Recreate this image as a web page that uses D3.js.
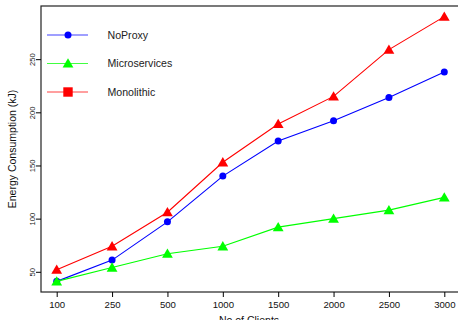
<!DOCTYPE html>
<html>
<head>
<meta charset="utf-8">
<script src="https://cdn.jsdelivr.net/npm/d3@7"></script>
<style>
  html, body { margin: 0; padding: 0; background: #fff; }
  svg { display: block; font-family: "Liberation Sans", Arial, Helvetica, sans-serif; }
</style>
</head>
<body>
<svg id="chart" width="458" height="320"></svg>
<script>
// Energy consumption per client count, three deployment styles
const clients = ["100", "250", "500", "1000", "1500", "2000", "2500", "3000"];
const noProxy = [41, 61, 97, 140, 173, 192, 214, 238];
const microservices = [41, 54, 67, 74, 92, 100, 108, 120];
const monolithic = [52, 74, 106, 153, 189, 215, 259, 290];
const yTicks = [50, 100, 150, 200, 250];

const seriesList = [
  { name: "NoProxy", values: noProxy, color: "#0000ff", marker: "circle", legendMarker: "circle" },
  { name: "Microservices", values: microservices, color: "#00ff00", marker: "triangle", legendMarker: "triangle" },
  { name: "Monolithic", values: monolithic, color: "#ff0000", marker: "triangle", legendMarker: "square" }
];

const svg = d3.select("#chart");
const plot = { left: 41, top: 6, right: 459, bottom: 292 };

const x = d3.scalePoint().domain(clients).range([56.7, 444.3]).padding(0);
const y = d3.scaleLinear().domain([31, 300]).range([plot.bottom, plot.top]);

// plot frame
svg.append("rect")
  .attr("x", plot.left).attr("y", plot.top)
  .attr("width", plot.right - plot.left).attr("height", plot.bottom - plot.top)
  .attr("fill", "none").attr("stroke", "#222").attr("stroke-width", 1.2);

// x axis
const xAxis = svg.append("g")
  .attr("transform", `translate(0,${plot.bottom})`)
  .call(d3.axisBottom(x).tickSize(5).tickPadding(4));
xAxis.select(".domain").remove();
xAxis.selectAll("line").attr("stroke", "#000");
xAxis.selectAll("text").attr("font-size", 9.6).attr("fill", "#111")
  .attr("font-family", "'Liberation Sans', Arial, sans-serif");

// y axis with rotated labels
const yAxis = svg.append("g")
  .attr("transform", `translate(${plot.left},0)`)
  .call(d3.axisLeft(y).tickValues(yTicks).tickSize(5));
yAxis.select(".domain").remove();
yAxis.selectAll("line").attr("stroke", "#000");
yAxis.selectAll("text")
  .attr("x", 0).attr("dy", 0)
  .attr("text-anchor", "middle")
  .attr("transform", "translate(-6.5,0) rotate(-90)")
  .attr("font-size", 7.6).attr("fill", "#222")
  .attr("font-family", "'Liberation Sans', Arial, sans-serif");

// axis titles
svg.append("text")
  .attr("transform", `translate(16,${(plot.top + plot.bottom) / 2}) rotate(-90)`)
  .attr("text-anchor", "middle")
  .attr("font-size", 10.5).attr("fill", "#111")
  .text("Energy Consumption (kJ)");

svg.append("text")
  .attr("x", 249).attr("y", 323.5)
  .attr("text-anchor", "middle")
  .attr("font-size", 10.5).attr("fill", "#111")
  .text("No of Clients");

// marker shapes
function drawMarker(g, kind, cx, cy, color) {
  if (kind === "circle") {
    g.append("circle").attr("cx", cx).attr("cy", cy).attr("r", 3.5).attr("fill", color);
  } else if (kind === "triangle") {
    g.append("path")
      .attr("d", `M${cx},${cy - 5.2}L${cx + 5.4},${cy + 4.1}L${cx - 5.4},${cy + 4.1}Z`)
      .attr("fill", color);
  } else if (kind === "square") {
    g.append("rect").attr("x", cx - 4.7).attr("y", cy - 4.7)
      .attr("width", 9.4).attr("height", 9.4).attr("fill", color);
  }
}

const line = d3.line()
  .x((d, i) => x(clients[i]))
  .y(d => y(d));

// series lines and markers
seriesList.forEach(s => {
  const g = svg.append("g");
  g.append("path")
    .attr("d", line(s.values))
    .attr("fill", "none")
    .attr("stroke", s.color)
    .attr("stroke-width", 1.1);
  s.values.forEach((v, i) => drawMarker(g, s.marker, x(clients[i]), y(v), s.color));
});

// legend
const legendRows = [35, 63.5, 92];
seriesList.forEach((s, i) => {
  const ly = legendRows[i];
  const g = svg.append("g");
  g.append("line")
    .attr("x1", 47).attr("x2", 88).attr("y1", ly).attr("y2", ly)
    .attr("stroke", s.color).attr("stroke-width", 1.1).attr("stroke-opacity", 0.75);
  drawMarker(g, s.legendMarker, 68, ly, s.color);
  g.append("text")
    .attr("x", 107.5).attr("y", ly + 3.7)
    .attr("font-size", 10.6).attr("fill", "#222")
    .text(s.name);
});
</script>
</body>
</html>
